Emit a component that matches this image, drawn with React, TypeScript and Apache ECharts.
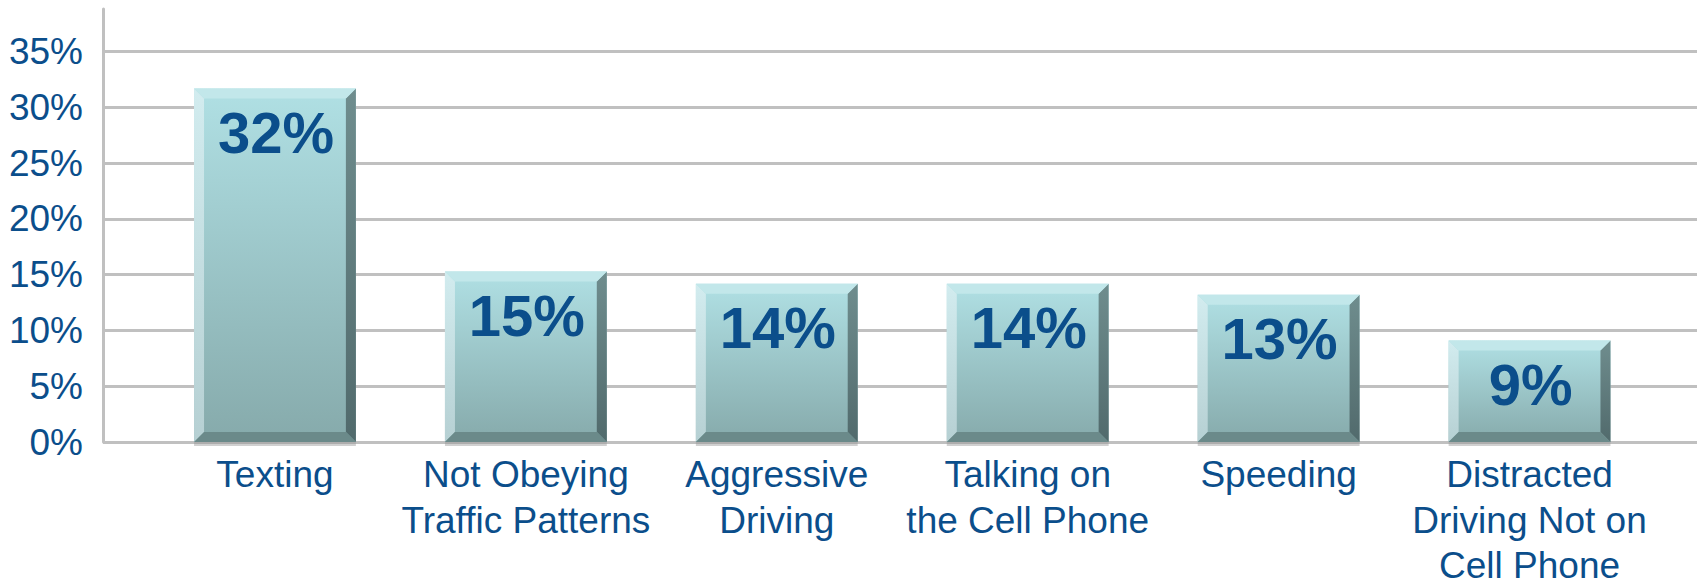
import React, { useEffect, useRef } from "react";
import * as echarts from "echarts";

const categories = [
  "Texting",
  "Not Obeying\nTraffic Patterns",
  "Aggressive\nDriving",
  "Talking on\nthe Cell Phone",
  "Speeding",
  "Distracted\nDriving Not on\nCell Phone",
];
const values = [31.7, 15.3, 14.2, 14.2, 13.2, 9.1];
const yMin = 0;
const yMax = 35;
const yInterval = 5;

const TEXT_COLOR = "#0b4e8b";
const GRID_COLOR = "#c0c0c0";
const FONT = '"Liberation Sans", Arial, sans-serif';

export default function App() {
  const ref = useRef<HTMLDivElement>(null);

  useEffect(() => {
    document.body.style.margin = "0";
    if (!ref.current) return;
    const chart = echarts.init(ref.current, undefined, { renderer: "svg" });

    const mainGrad = () =>
      new echarts.graphic.LinearGradient(0, 0, 0, 1, [
        { offset: 0, color: "#b0e0e4" },
        { offset: 1, color: "#86aaab" },
      ]);
    const leftGrad = () =>
      new echarts.graphic.LinearGradient(0, 0, 0, 1, [
        { offset: 0, color: "#d2ecef" },
        { offset: 1, color: "#b6d0d3" },
      ]);
    const rightGrad = () =>
      new echarts.graphic.LinearGradient(0, 0, 0, 1, [
        { offset: 0, color: "#6f8d8e" },
        { offset: 1, color: "#516a6c" },
      ]);

    const option: any = {
      animation: false,
      backgroundColor: "#ffffff",
      grid: [
        { left: 103, right: 3, top: 51.7, bottom: 137, containLabel: false, outerBoundsMode: "none" },
        { left: 149.5, right: 45, top: 51.7, bottom: 137, containLabel: false, outerBoundsMode: "none" },
        { left: 103, width: 10, top: 9, bottom: 137, containLabel: false, outerBoundsMode: "none" },
      ],
      xAxis: [
        {
          gridIndex: 0,
          type: "value",
          min: 0,
          max: 1,
          show: false,
        },
        {
          gridIndex: 1,
          type: "category",
          data: categories,
          axisLine: { show: false },
          axisTick: { show: false },
          axisLabel: {
            interval: 0,
            margin: 10,
            color: TEXT_COLOR,
            fontSize: 37,
            lineHeight: 45.5,
            fontFamily: FONT,
            verticalAlign: "top",
          },
        },
        {
          gridIndex: 2,
          type: "value",
          min: 0,
          max: 1,
          show: false,
        },
      ],
      yAxis: [
        {
          gridIndex: 0,
          type: "value",
          min: yMin,
          max: yMax,
          interval: yInterval,
          axisLine: { show: false },
          axisTick: { show: false },
          splitLine: { show: true, lineStyle: { color: GRID_COLOR, width: 3 } },
          axisLabel: {
            margin: 20,
            color: TEXT_COLOR,
            fontSize: 37,
            fontFamily: FONT,
            formatter: "{value}%",
            padding: [0, 0, 8, 0],
          },
        },
        {
          gridIndex: 1,
          type: "value",
          min: yMin,
          max: yMax,
          interval: yInterval,
          show: false,
        },
        {
          gridIndex: 2,
          type: "value",
          min: 0,
          max: 1,
          axisLine: { show: true, lineStyle: { color: GRID_COLOR, width: 3 } },
          axisTick: { show: false },
          axisLabel: { show: false },
          splitLine: { show: false },
        },
      ],
      series: [
        {
          type: "custom",
          xAxisIndex: 1,
          yAxisIndex: 1,
          data: values.map((v, i) => [i, v]),
          renderItem: (params: any, api: any) => {
            const i = api.value(0);
            const v = api.value(1);
            const top = api.coord([i, v]);
            const base = api.coord([i, 0]);
            const bw = api.size([1, 0])[0] * 0.645;
            const x0 = top[0] - bw / 2;
            const x1 = x0 + bw;
            const y0 = top[1];
            const y1 = base[1];
            const b = 10;
            return {
              type: "group",
              children: [
                {
                  type: "rect",
                  shape: { x: x0, y: y1, width: bw, height: 4 },
                  style: { fill: "rgba(150,150,150,0.45)" },
                },
                {
                  type: "rect",
                  shape: { x: x0, y: y0, width: bw, height: y1 - y0 },
                  style: { fill: mainGrad() },
                },
                {
                  type: "polygon",
                  shape: {
                    points: [
                      [x0, y0],
                      [x0 + b, y0 + b],
                      [x0 + b, y1 - b],
                      [x0, y1],
                    ],
                  },
                  style: { fill: leftGrad() },
                },
                {
                  type: "polygon",
                  shape: {
                    points: [
                      [x1, y0],
                      [x1, y1],
                      [x1 - b, y1 - b],
                      [x1 - b, y0 + b],
                    ],
                  },
                  style: { fill: rightGrad() },
                },
                {
                  type: "polygon",
                  shape: {
                    points: [
                      [x0, y0],
                      [x1, y0],
                      [x1 - b, y0 + b],
                      [x0 + b, y0 + b],
                    ],
                  },
                  style: { fill: "#c2e7ea" },
                },
                {
                  type: "polygon",
                  shape: {
                    points: [
                      [x0, y1],
                      [x0 + b, y1 - b],
                      [x1 - b, y1 - b],
                      [x1, y1],
                    ],
                  },
                  style: { fill: "#6b8a8a" },
                },
                {
                  type: "text",
                  x: top[0] + 1,
                  y: y0 + 44,
                  style: {
                    text: Math.round(v) + "%",
                    fill: TEXT_COLOR,
                    fontSize: 58,
                    fontWeight: "bold",
                    fontFamily: FONT,
                    align: "center",
                    verticalAlign: "middle",
                  },
                },
              ],
            };
          },
        },
      ],
    };

    chart.setOption(option);
    return () => {
      chart.dispose();
    };
  }, []);

  return <div ref={ref} style={{ width: 1700, height: 579 }} />;
}
